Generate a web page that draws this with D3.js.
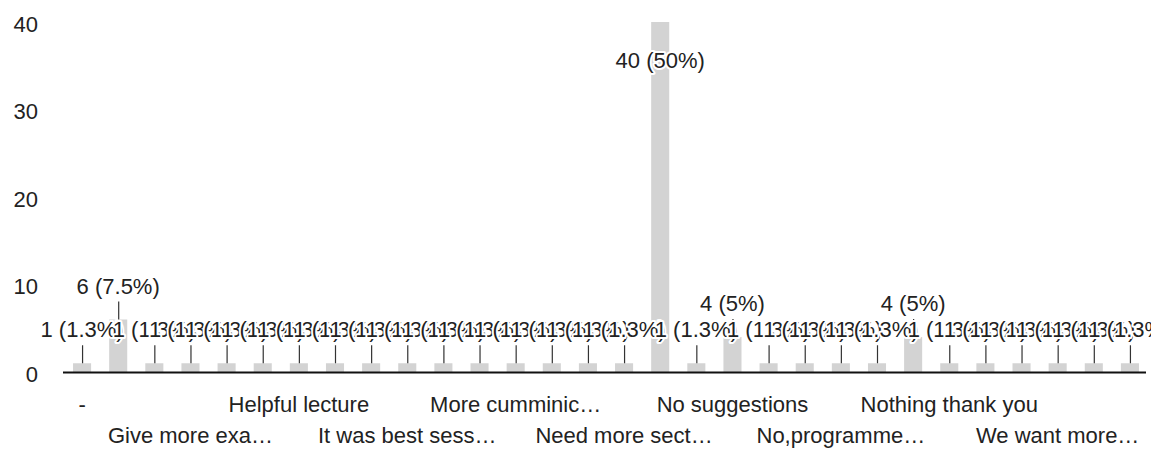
<!DOCTYPE html>
<html>
<head>
<meta charset="utf-8">
<script src="https://cdn.jsdelivr.net/npm/d3@7"></script>
<style>
  html, body { margin: 0; padding: 0; background: #fff; }
  svg { display: block; }
  text { font-family: "Liberation Sans", Arial, sans-serif; }
</style>
</head>
<body>
<svg id="chart" width="1151" height="452"></svg>
<script>
// ---- data ----
const categories = [
  "-", "Excellent", "Fine", "Give more exa…", "Good", "Good session",
  "Helpful lecture", "Informative", "It is good", "It was best sess…", "It was helpful", "Keep it up",
  "More cumminic…", "More practical…", "Na", "Need more sect…", "No", "No comments",
  "No suggestions", "No suggestions at all", "No, everything good", "No,programme…", "Nope", "Nothing",
  "Nothing thank you", "Ok", "Thank you", "We want more…", "Well organised", "Yes"
];
const counts = [
  1, 6, 1, 1, 1, 1,
  1, 1, 1, 1, 1, 1,
  1, 1, 1, 1, 40, 1,
  4, 1, 1, 1, 1, 4,
  1, 1, 1, 1, 1, 1
];
const yTicks = [0, 10, 20, 30, 40];
const labelEvery = 3;

// ---- layout ----
const W = 1151, H = 452;
const svg = d3.select("#chart");
const total = d3.sum(counts);
const data = categories.map((c, i) => ({ cat: c, v: counts[i], i }));

const x = d3.scaleBand().domain(categories).range([64, 1148])
  .paddingInner(0.5).paddingOuter(0.25);
const y = d3.scaleLinear().domain([0, 40]).range([372, 22]);

const fmtPct = v => {
  const p = Math.round(v / total * 1000) / 10;
  return (p % 1 === 0 ? p.toFixed(0) : p.toFixed(1)) + "%";
};

// y axis labels
const yAxis = d3.axisLeft(y).tickValues(yTicks).tickSize(0).tickPadding(0);
const gy = svg.append("g").attr("transform", "translate(38,2)").call(yAxis);
gy.select(".domain").remove();
gy.selectAll("text")
  .attr("font-size", 22)
  .attr("fill", "#222")
  .attr("font-family", "'Liberation Sans', Arial, sans-serif");

// bars
svg.append("g").selectAll("rect").data(data).join("rect")
  .attr("x", d => x(d.cat))
  .attr("width", x.bandwidth())
  .attr("y", d => y(d.v))
  .attr("height", d => y(0) - y(d.v))
  .attr("fill", "#d3d3d3");

// baseline
svg.append("line")
  .attr("x1", 63).attr("x2", 1146)
  .attr("y1", y(0) + 0.5).attr("y2", y(0) + 0.5)
  .attr("stroke", "#111").attr("stroke-width", 2);

// annotations (leader + label with white halo, drawn in order)
const ann = svg.append("g");
data.forEach(d => {
  const cx = x(d.cat) + x.bandwidth() / 2;
  const top = y(d.v);
  const inside = top - 26 - 18 < 0;
  const g = ann.append("g");
  if (!inside) {
    g.append("line")
      .attr("x1", cx + 0.5).attr("x2", cx + 0.5)
      .attr("y1", top - 18).attr("y2", top)
      .attr("stroke", "#333").attr("stroke-width", 1.2);
  }
  g.append("text")
    .attr("x", cx)
    .attr("y", inside ? top + 46 : top - 26)
    .attr("text-anchor", "middle")
    .attr("font-size", 22)
    .attr("fill", "#222")
    .attr("stroke", "#fff")
    .attr("stroke-width", 4)
    .attr("stroke-linejoin", "round")
    .attr("paint-order", "stroke")
    .text(`${d.v} (${fmtPct(d.v)})`);
});

// category labels (every 3rd, alternating rows)
const xAxisG = svg.append("g");
data.filter(d => d.i % labelEvery === 0).forEach(d => {
  const row = (d.i / labelEvery) % 2;
  xAxisG.append("text")
    .attr("x", x(d.cat) + x.bandwidth() / 2)
    .attr("y", row === 0 ? 412 : 443)
    .attr("text-anchor", "middle")
    .attr("font-size", 22)
    .attr("fill", "#222")
    .text(d.cat);
});
</script>
</body>
</html>
